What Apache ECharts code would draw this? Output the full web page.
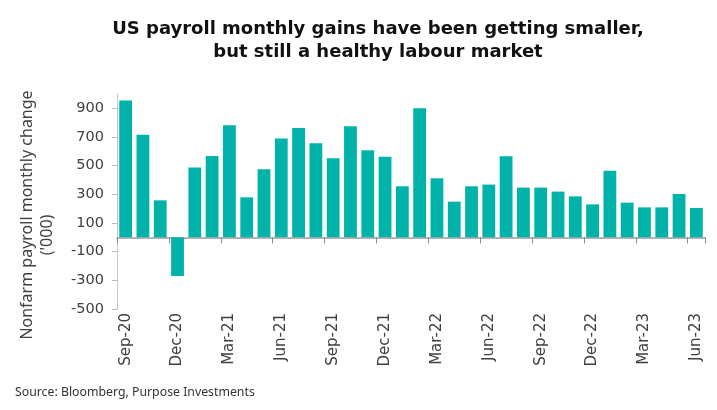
<!DOCTYPE html>
<html>
<head>
<meta charset="utf-8">
<script src="https://cdn.jsdelivr.net/npm/echarts@6/dist/echarts.min.js"></script>
<style>html,body{margin:0;padding:0;background:#fff}#c{width:717px;height:410px}</style>
</head>
<body>
<div id="c"></div>
<script>
var categories = ['Sep-20','Oct-20','Nov-20','Dec-20','Jan-21','Feb-21','Mar-21','Apr-21','May-21','Jun-21','Jul-21','Aug-21','Sep-21','Oct-21','Nov-21','Dec-21','Jan-22','Feb-22','Mar-22','Apr-22','May-22','Jun-22','Jul-22','Aug-22','Sep-22','Oct-22','Nov-22','Dec-22','Jan-23','Feb-23','Mar-23','Apr-23','May-23','Jun-23'];
var payrollChange = [955,716,258,-270,488,568,782,279,475,689,763,656,551,775,607,563,356,900,412,249,356,368,565,347,347,319,286,230,465,242,209,209,302,205];
var yTicks = [-500,-300,-100,100,300,500,700,900];

var chart = echarts.init(document.getElementById('c'));
var font = 'Noto Sans';
var wide = 'DejaVu Sans';
chart.setOption({
  animation: false,
  title: {
    text: 'US payroll monthly gains have been getting smaller,\nbut still a healthy labour market',
    left: 373, top: 13, textAlign: 'center',
    textStyle: { fontFamily: wide, fontWeight: 'bold', fontSize: 18, lineHeight: 23, color: '#111' }
  },
  grid: { left: 117, right: 12, top: 94, bottom: 101, containLabel: false },
  xAxis: [{
    type: 'category', data: categories, position: 'bottom',
    axisLine: { onZero: true, lineStyle: { color: '#9a9a9a', width: 1.5 } },
    axisTick: { show: true, interval: 2, length: 6, lineStyle: { color: '#8a8a8a' } },
    axisLabel: { show: false }
  }, {
    type: 'category', data: categories, position: 'bottom',
    axisLine: { show: false, onZero: false }, axisTick: { show: false },
    axisLabel: { interval: 2, rotate: 90, margin: 4, fontFamily: wide, fontSize: 15, color: '#404040' }
  }],
  yAxis: {
    type: 'value', min: -500, max: 1000,
    splitLine: { show: false },
    axisLine: { show: true, lineStyle: { color: '#c8c8c8' } },
    axisTick: { show: true, length: 5, lineStyle: { color: '#bbb' }, customValues: yTicks },
    axisLabel: { customValues: yTicks, fontFamily: wide, fontSize: 14.5, color: '#404040', margin: 13 }
  },
  series: [{
    type: 'bar', data: payrollChange, xAxisIndex: 0,
    barCategoryGap: '26%',
    itemStyle: { color: '#00B2A9' }
  }],
  graphic: [
    { type: 'text', x: 27, y: 215, rotation: Math.PI / 2,
      style: { text: 'Nonfarm payroll monthly change', fontFamily: font, fontSize: 16, fill: '#404040', align: 'center', verticalAlign: 'middle' } },
    { type: 'text', x: 47, y: 235, rotation: Math.PI / 2,
      style: { text: "('000)", fontFamily: font, fontSize: 16, fill: '#404040', align: 'center', verticalAlign: 'middle' } },
    { type: 'text', x: 15, y: 392,
      style: { text: 'Source: Bloomberg, Purpose Investments', fontFamily: font, fontSize: 12.3, fill: '#333', align: 'left', verticalAlign: 'middle' } }
  ]
});
</script>
</body>
</html>
